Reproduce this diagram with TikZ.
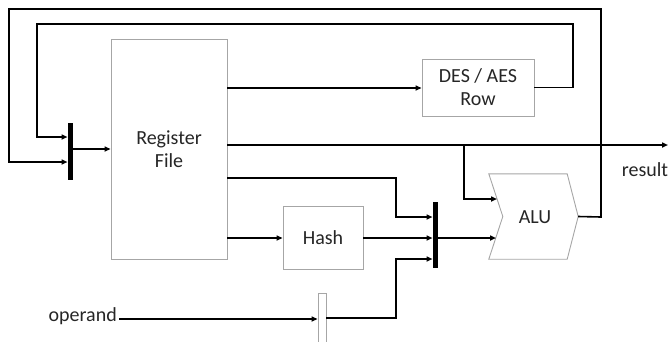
\documentclass[tikz,border=0pt]{standalone}
\usepackage{fontspec}
\setmainfont{Carlito}
\usetikzlibrary{arrows.meta,calc}
\definecolor{boxgray}{HTML}{A6A6A6}
\definecolor{txt}{HTML}{262626}
\begin{document}
\begin{tikzpicture}[x=1pt,y=-1pt,
  conn/.style={line width=1.6pt,draw=black},
  arr/.style={conn,-{Triangle[length=6pt,width=5pt]}},
  blk/.style={draw=boxgray,line width=0.9pt,fill=white,inner sep=0pt,align=center,text=txt,
    font=\fontsize{20}{23}\selectfont},
  bar/.style={fill=black,draw=none,inner sep=0pt,minimum width=5pt},
  lbl/.style={text=txt,font=\fontsize{20}{23}\selectfont,inner sep=0pt}]
\useasboundingbox (0,0) rectangle (670,341);
% blocks
\node[blk,minimum width=116pt,minimum height=220pt] (rf) at (169,149) {Register\\File};
\node[blk,minimum width=112pt,minimum height=57pt] (des) at (478,87.5) {DES / AES\\Row};
\node[blk,minimum width=80pt,minimum height=63pt] (hash) at (323,237.5) {Hash};
\node[inner sep=0pt,minimum width=78pt,minimum height=85pt,lbl] (alu) at (528,216.5) {};
\draw[draw=boxgray,line width=0.9pt,fill=white]
  (alu.north west) -- (alu.north east) -- ($(alu.east)+(11,0)$) -- (alu.south east)
  -- (alu.south west) -- ($(alu.west)+(14,0)$) -- cycle;
\node[lbl] (alut) at (535,217) {ALU};
\node[draw=boxgray,line width=0.9pt,fill=white,inner sep=0pt,minimum width=8pt,minimum height=52pt] (latch) at (322,319) {};
\node[bar,minimum height=57pt] (mux1) at (70,151.5) {};
\node[bar,minimum height=66pt] (mux2) at (435,235) {};
\node[lbl,anchor=east] (opnd) at (117,316) {operand};
\node[lbl] (reslbl) at (645,170) {result};
% helper coordinates
\coordinate (aluout) at ($(alu.east)+(11,0)$);
\coordinate (o1) at (601,217);
\coordinate (o2) at (601,9);
\coordinate (o3) at (9,9);
\coordinate (m1b) at (67.5,162);
\coordinate (l1) at (573,24);
\coordinate (l2) at (37,24);
\coordinate (m1a) at (67.5,137);
\coordinate (res) at (668,145);
\coordinate (br) at (464,145);
\coordinate (alua) at (497,199);
\coordinate (alub) at (496,238);
\coordinate (r1) at (227,88);
\coordinate (r3) at (227,178);
\coordinate (r4) at (227,238);
\coordinate (j1) at (396,178);
\coordinate (m2a) at (432.5,217);
\coordinate (m2b) at (432.5,238);
\coordinate (m2c) at (432.5,259);
\coordinate (j2) at (396,318);
% connectors
\draw[arr] (r1) -- (des.west |- r1);
\draw[arr] (des.east) -| (l1) -- (l2) |- (m1a);
\draw[arr] (aluout) -- (o1) -- (o2) -- (o3) |- (m1b);
\draw[arr] (mux1.east |- rf.west) -- (rf.west);
\draw[arr] (rf.east |- res) -- (res);
\draw[arr] (br) |- (alua);
\draw[arr] (r3) -- (j1) |- (m2a);
\draw[arr] (r4) -- (hash.west |- r4);
\draw[arr] (hash.east |- m2b) -- (m2b);
\draw[arr] (latch.east |- j2) -- (j2) |- (m2c);
\draw[arr] (opnd.east |- latch.west) ++(2,0) -- (latch.west);
\draw[arr] (mux2.east |- alub) -- (alub);
\end{tikzpicture}
\end{document}
